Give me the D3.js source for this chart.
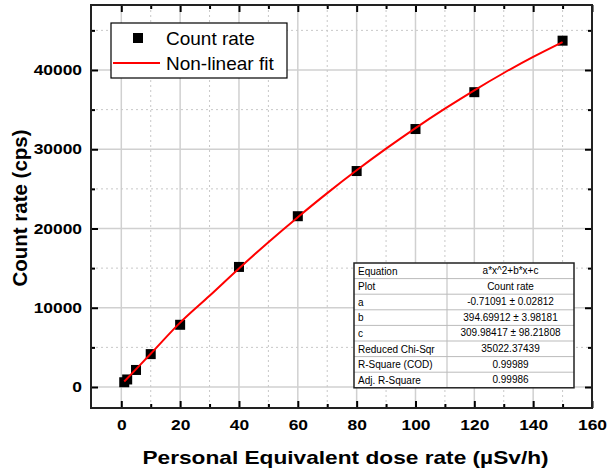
<!DOCTYPE html>
<html>
<head>
<meta charset="utf-8">
<script src="https://cdn.jsdelivr.net/npm/d3@7"></script>
<style>
body { margin: 0; background: #fff; }
text { font-family: Arial, "Liberation Sans", sans-serif; }
</style>
</head>
<body>
<script>
// measured points
var doseRate = [1, 2, 5, 10, 20, 40, 60, 80, 100, 120, 150];
var countRate = [600, 950, 2150, 4150, 7850, 15150, 21550, 27250, 32550, 37200, 43700];

// fitted curve
var fitX = [1, 10, 20, 30, 40, 50, 60, 70, 80, 90, 100, 110, 120, 130, 140, 150];
var fitY = [700, 4190, 8120, 11510, 14960, 18270, 21430, 24460, 27340, 30070, 32670, 35120, 37440, 39620, 41650, 43520];

var xTicks = [0, 20, 40, 60, 80, 100, 120, 140, 160];
var yTicks = [0, 10000, 20000, 30000, 40000];

var tableRows = [
  ["Equation", "a*x^2+b*x+c"],
  ["Plot", "Count rate"],
  ["a", "-0.71091 \u00b1 0.02812"],
  ["b", "394.69912 \u00b1 3.98181"],
  ["c", "309.98417 \u00b1 98.21808"],
  ["Reduced Chi-Sqr", "35022.37439"],
  ["R-Square (COD)", "0.99989"],
  ["Adj. R-Square", "0.99986"]
];

var W = 608, H = 473;
var pL = 91, pR = 592, pT = 5, pB = 408;

var svg = d3.select("body").append("svg").attr("width", W).attr("height", H);

var x = d3.scaleLinear().domain([-10.3, 160]).range([pL, pR]);
var y = d3.scaleLinear().domain([-2650, 48200]).range([pB, pT]);

var minorX = d3.range(10, 160, 20);
var minorY = d3.range(5000, 48000, 10000);

// grid
var grid = svg.append("g");
grid.selectAll(".gxm").data(xTicks).enter().append("line")
    .attr("x1", d => x(d)).attr("x2", d => x(d)).attr("y1", pT).attr("y2", pB)
    .attr("stroke", "#d0d0d0").attr("stroke-width", 1.5);
grid.selectAll(".gym").data(yTicks).enter().append("line")
    .attr("x1", pL).attr("x2", pR).attr("y1", d => y(d)).attr("y2", d => y(d))
    .attr("stroke", "#d0d0d0").attr("stroke-width", 1.5);
grid.selectAll(".gxn").data(minorX).enter().append("line")
    .attr("x1", d => x(d)).attr("x2", d => x(d)).attr("y1", pT).attr("y2", pB)
    .attr("stroke", "#c8c8c8").attr("stroke-width", 1).attr("stroke-dasharray", "2,3");
grid.selectAll(".gyn").data(minorY).enter().append("line")
    .attr("x1", pL).attr("x2", pR).attr("y1", d => y(d)).attr("y2", d => y(d))
    .attr("stroke", "#c8c8c8").attr("stroke-width", 1).attr("stroke-dasharray", "2,3");

// axes, ticks pointing inward
function styleAxis(g) {
  g.select(".domain").remove();
  g.selectAll(".tick line").attr("stroke", "#000").attr("stroke-width", 2);
  g.selectAll(".tick text").attr("font-size", 14.5).attr("font-weight", "bold").attr("fill", "#000")
   .attr("transform", "scale(1.2,1)");
}
var xAxisG = svg.append("g").attr("transform", "translate(0," + pB + ")")
   .call(d3.axisBottom(x).tickValues(xTicks).tickSize(-7).tickPadding(12).tickFormat(d3.format("d")))
   .call(styleAxis);
var yAxisG = svg.append("g").attr("transform", "translate(" + pL + ",0)")
   .call(d3.axisLeft(y).tickValues(yTicks).tickSize(-7).tickFormat(d3.format("d")))
   .call(styleAxis);
yAxisG.selectAll(".tick text").attr("x", -7.5);
svg.append("g").attr("transform", "translate(0," + pT + ")")
   .call(d3.axisTop(x).tickValues(xTicks).tickSize(-7).tickFormat(""))
   .call(styleAxis);
svg.append("g").attr("transform", "translate(" + pR + ",0)")
   .call(d3.axisRight(y).tickValues(yTicks).tickSize(-7).tickFormat(""))
   .call(styleAxis);
// minor ticks
svg.append("g").attr("transform", "translate(0," + pB + ")")
   .call(d3.axisBottom(x).tickValues(minorX).tickSize(-4).tickFormat("")).call(styleAxis);
svg.append("g").attr("transform", "translate(0," + pT + ")")
   .call(d3.axisTop(x).tickValues(minorX).tickSize(-4).tickFormat("")).call(styleAxis);
svg.append("g").attr("transform", "translate(" + pL + ",0)")
   .call(d3.axisLeft(y).tickValues(minorY).tickSize(-4).tickFormat("")).call(styleAxis);
svg.append("g").attr("transform", "translate(" + pR + ",0)")
   .call(d3.axisRight(y).tickValues(minorY).tickSize(-4).tickFormat("")).call(styleAxis);

// frame
svg.append("rect").attr("x", pL).attr("y", pT)
   .attr("width", pR - pL).attr("height", pB - pT)
   .attr("fill", "none").attr("stroke", "#222").attr("stroke-width", 2);

// points
svg.append("g").selectAll("rect").data(doseRate).enter().append("rect")
   .attr("x", (d, i) => x(d) - 5).attr("y", (d, i) => y(countRate[i]) - 5)
   .attr("width", 10).attr("height", 10).attr("fill", "#000");

// fit line
var line = d3.line().x(d => x(d[0])).y(d => y(d[1])).curve(d3.curveCatmullRom);
svg.append("path").datum(d3.zip(fitX, fitY)).attr("d", line)
   .attr("fill", "none").attr("stroke", "#f00").attr("stroke-width", 2);

// legend
var lg = svg.append("g");
lg.append("rect").attr("x", 111).attr("y", 23).attr("width", 176).attr("height", 55)
  .attr("fill", "#fff").attr("stroke", "#000").attr("stroke-width", 1.2);
lg.append("rect").attr("x", 133).attr("y", 33).attr("width", 10).attr("height", 10).attr("fill", "#000");
lg.append("line").attr("x1", 113).attr("x2", 160).attr("y1", 63).attr("y2", 63)
  .attr("stroke", "#f00").attr("stroke-width", 2);
lg.append("text").attr("x", 166).attr("y", 45).attr("font-size", 19).text("Count rate");
lg.append("text").attr("x", 166).attr("y", 70).attr("font-size", 19).text("Non-linear fit");

// fit table
var tx = 354, ty = 263, tw = 220, rh = 15.6, cx = 447;
var tb = svg.append("g");
tb.append("rect").attr("x", tx).attr("y", ty).attr("width", tw).attr("height", rh * tableRows.length)
  .attr("fill", "#fff");
tb.selectAll(".hl").data(d3.range(1, tableRows.length)).enter().append("line")
  .attr("x1", tx).attr("x2", tx + tw).attr("y1", d => ty + d * rh).attr("y2", d => ty + d * rh)
  .attr("stroke", "#bbb").attr("stroke-width", 1);
tb.append("line").attr("x1", cx).attr("x2", cx).attr("y1", ty).attr("y2", ty + rh * tableRows.length)
  .attr("stroke", "#bbb");
tb.append("rect").attr("x", tx).attr("y", ty).attr("width", tw).attr("height", rh * tableRows.length)
  .attr("fill", "none").attr("stroke", "#222").attr("stroke-width", 1.5);
var rows = tb.selectAll(".row").data(tableRows).enter().append("g");
rows.append("text").attr("x", tx + 4).attr("y", (d, i) => ty + i * rh + 11.5)
  .attr("font-size", 10).text(d => d[0]);
rows.append("text").attr("x", (cx + tx + tw) / 2).attr("y", (d, i) => ty + i * rh + 11)
  .attr("text-anchor", "middle").attr("font-size", 10).text(d => d[1]);

// axis titles
svg.append("text").attr("transform", "translate(" + ((pL + pR) / 2 + 4) + ",464) scale(1.26,1)")
   .attr("text-anchor", "middle")
   .attr("font-size", 18).attr("font-weight", "bold").text("Personal Equivalent dose rate (\u00b5Sv/h)");
svg.append("text").attr("transform", "translate(27,208) rotate(-90)")
   .attr("text-anchor", "middle").attr("font-size", 20.5).attr("font-weight", "bold").text("Count rate (cps)");
</script>
</body>
</html>
